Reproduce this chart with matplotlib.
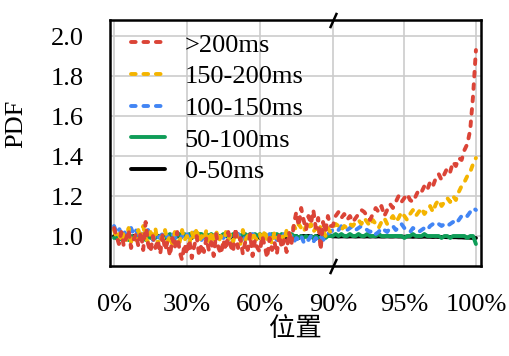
import numpy as np
import matplotlib
matplotlib.use("Agg")
import matplotlib.pyplot as plt

plt.rcParams['font.family'] = ['Liberation Serif', 'Noto Sans CJK SC']
plt.rcParams['font.size'] = 19

# x positions (%), left part 0-89 step 1, right part 90-100 step 0.2
pos_left = np.arange(0, 90)
pos_right = np.round(np.arange(90, 100.001, 0.2), 1)

red_left = [1.04, 1.00, 0.96, 1.02, 0.95, 0.99, 1.03, 0.94, 0.98, 1.01,
            0.95, 1.02, 0.93, 1.07, 0.96, 0.92, 1.00, 0.94, 0.98, 0.91,
            1.01, 0.93, 0.97, 0.90, 0.99, 0.94, 1.02, 0.92, 0.88, 0.96,
            0.91, 0.98, 0.89, 0.95, 1.00, 0.90, 0.96, 0.92, 0.99, 0.93,
            0.97, 0.90, 1.01, 0.94, 0.91, 0.98, 0.93, 1.02, 0.95, 0.92,
            1.04, 0.94, 0.99, 0.91, 0.97, 0.93, 1.01, 0.90, 0.98, 0.94,
            0.92, 1.00, 0.95, 0.89, 0.99, 0.93, 0.97, 0.91, 1.01, 0.94,
            0.98, 0.92, 1.02, 0.96, 1.06, 1.12, 1.05, 1.14, 1.08, 1.03,
            1.10, 1.06, 1.13, 1.04, 1.09, 0.93, 1.07, 1.02, 1.10, 1.05]
red_right = [1.05, 1.10, 1.12, 1.09, 1.11, 1.08, 1.10, 1.07, 1.09, 1.11,
             1.13, 1.12, 1.10, 1.08, 1.11, 1.14, 1.12, 1.15, 1.10, 1.13,
             1.16, 1.14, 1.17, 1.20, 1.17, 1.19, 1.21, 1.18, 1.17, 1.20,
             1.23, 1.22, 1.25, 1.23, 1.27, 1.25, 1.29, 1.31, 1.28, 1.31,
             1.34, 1.32, 1.37, 1.35, 1.39, 1.38, 1.43, 1.46, 1.53, 1.70, 1.93]

orange_left = [1.03, 0.99, 1.01, 0.97, 1.02, 0.98, 1.04, 0.97, 1.00, 0.98,
               1.03, 0.98, 1.05, 0.99, 0.97, 1.02, 0.98, 1.04, 0.96, 1.00,
               0.98, 1.03, 0.97, 1.00, 0.96, 1.02, 0.99, 0.97, 1.03, 0.98,
               1.00, 0.96, 1.02, 0.98, 1.04, 0.97, 1.00, 0.98, 1.03, 0.96,
               1.01, 0.98, 1.03, 0.97, 1.00, 0.95, 1.02, 0.98, 1.01, 0.97,
               1.02, 0.99, 0.96, 1.03, 0.98, 1.00, 0.97, 1.02, 0.99, 0.98,
               1.01, 0.97, 1.03, 0.98, 1.00, 0.96, 1.02, 0.99, 0.98, 1.01,
               0.97, 1.03, 0.99, 1.02, 1.05, 1.03, 1.06, 1.04, 1.02, 1.05,
               1.03, 1.06, 1.02, 1.04, 1.01, 1.05, 1.03, 1.00, 1.04, 1.02]
orange_right = [1.04, 1.06, 1.05, 1.03, 1.05, 1.04, 1.06, 1.05, 1.07, 1.08,
                1.06, 1.09, 1.07, 1.05, 1.08, 1.06, 1.04, 1.07, 1.09, 1.06,
                1.08, 1.10, 1.07, 1.09, 1.12, 1.10, 1.08, 1.11, 1.13, 1.10,
                1.12, 1.14, 1.11, 1.13, 1.15, 1.12, 1.16, 1.18, 1.15, 1.17,
                1.19, 1.17, 1.20, 1.18, 1.22, 1.25, 1.27, 1.30, 1.32, 1.36, 1.39]

blue_left = [1.05, 1.02, 1.04, 1.01, 1.03, 1.00, 1.02, 1.04, 1.01, 1.03,
             1.00, 1.02, 0.99, 1.01, 1.03, 1.00, 0.98, 1.01, 0.99, 1.00,
             1.01, 0.99, 1.00, 0.98, 1.01, 0.99, 1.00, 0.98, 1.00, 0.99,
             1.01, 0.99, 1.00, 1.02, 0.99, 1.00, 0.98, 1.00, 1.01, 0.99,
             1.00, 0.98, 1.01, 0.99, 1.00, 0.99, 1.01, 0.98, 1.00, 0.99,
             1.00, 1.01, 0.99, 1.00, 0.98, 1.00, 0.99, 1.01, 1.00, 0.99,
             1.00, 0.98, 1.00, 0.99, 1.01, 0.99, 1.00, 0.98, 1.00, 0.99,
             1.01, 0.99, 0.98, 1.00, 0.97, 0.99, 0.98, 1.00, 0.97, 0.99,
             0.98, 1.00, 0.97, 0.99, 0.98, 1.00, 0.98, 0.99, 1.01, 1.02]
blue_right = [1.03, 1.04, 1.03, 1.05, 1.04, 1.03, 1.04, 1.05, 1.03, 1.04,
              1.05, 1.04, 1.03, 1.02, 1.03, 1.01, 1.02, 1.04, 1.03, 1.02,
              1.04, 1.05, 1.03, 1.04, 1.06, 1.04, 1.03, 1.02, 1.04, 1.03,
              1.02, 1.03, 1.04, 1.03, 1.05, 1.06, 1.05, 1.06, 1.05, 1.06,
              1.05, 1.06, 1.07, 1.06, 1.08, 1.10, 1.11, 1.10, 1.12, 1.14, 1.13]

green_left = [0.99, 1.00, 0.98, 0.99, 1.00, 0.99, 0.98, 1.00, 0.99, 1.00,
              0.99, 1.00, 0.99, 0.98, 1.00, 0.99, 1.00, 0.99, 1.00, 0.99,
              1.00, 0.99, 1.00, 1.01, 1.00, 0.99, 1.00, 1.01, 1.00, 1.01,
              1.00, 1.01, 1.00, 1.01, 1.00, 1.01, 1.01, 1.00, 1.01, 1.00,
              1.01, 1.00, 1.01, 1.00, 1.00, 1.01, 1.00, 1.01, 1.00, 1.01,
              1.00, 1.01, 1.00, 1.01, 1.01, 1.00, 1.01, 1.00, 1.01, 1.00,
              1.01, 1.00, 1.01, 1.00, 1.00, 1.01, 1.00, 1.01, 1.00, 1.01,
              1.00, 1.01, 1.00, 1.01, 1.00, 1.00, 0.99, 1.00, 0.99, 1.00,
              0.99, 1.00, 0.99, 1.00, 0.99, 0.99, 1.00, 0.99, 1.00, 1.00]
green_right = [1.00, 1.01, 1.00, 1.01, 1.00, 1.00, 1.01, 1.00, 1.00, 1.01,
               1.00, 1.00, 1.01, 1.00, 1.00, 1.00, 1.01, 1.00, 1.00, 1.00,
               1.00, 1.00, 1.00, 1.00, 1.00, 0.99, 1.00, 1.00, 1.01, 1.00,
               1.00, 1.00, 1.01, 1.00, 1.00, 1.00, 1.00, 1.00, 0.99, 1.00,
               1.00, 0.99, 1.00, 1.00, 1.00, 1.00, 1.00, 0.99, 1.00, 1.00, 0.96]

black_left = [1.00, 0.99, 1.00, 1.00, 0.99, 1.00, 1.00, 0.99, 1.00, 1.00,
              0.99, 1.00, 1.00, 0.99, 1.00, 1.00, 0.99, 1.00, 1.00, 1.00,
              1.00, 0.99, 1.00, 1.00, 1.00, 0.99, 1.00, 1.00, 1.00, 1.00,
              1.00, 1.00, 0.99, 1.00, 1.00, 1.00, 1.00, 1.00, 0.99, 1.00,
              1.00, 1.00, 1.00, 0.99, 1.00, 1.00, 1.00, 1.00, 1.00, 0.99,
              1.00, 1.00, 1.00, 1.00, 0.99, 1.00, 1.00, 1.00, 1.00, 1.00,
              0.99, 1.00, 1.00, 1.00, 1.00, 0.99, 1.00, 1.00, 1.00, 1.00,
              1.00, 0.99, 1.00, 1.00, 1.00, 1.00, 0.99, 1.00, 1.00, 1.00,
              1.00, 1.00, 0.99, 1.00, 1.00, 1.00, 0.99, 1.00, 1.00, 1.00]
black_right = [0.998, 0.998, 0.997, 0.998, 0.998, 0.997, 0.998, 0.998, 0.997, 0.998,
               0.998, 0.997, 0.998, 0.997, 0.998, 0.997, 0.998, 0.997, 0.997, 0.998,
               0.997, 0.997, 0.998, 0.997, 0.997, 0.996, 0.997, 0.997, 0.996, 0.997,
               0.996, 0.996, 0.997, 0.996, 0.996, 0.995, 0.996, 0.995, 0.995, 0.995,
               0.994, 0.995, 0.994, 0.994, 0.993, 0.993, 0.992, 0.992, 0.991, 0.990, 0.990]

labels = ['>200ms', '150-200ms', '100-150ms', '50-100ms', '0-50ms']
colors = ['#DB4437', '#F4B400', '#4285F4', '#0F9D58', '#000000']

K = 5.89  # stretch of the 90-100% part


def fwd(x):
    x = np.asarray(x, dtype=float)
    return np.where(x <= 90, x, 90 + (x - 90) * K)


def inv(y):
    y = np.asarray(y, dtype=float)
    return np.where(y <= 90, y, 90 + (y - 90) / K)


fig = plt.figure(figsize=(5.1, 3.56), dpi=100)
ax = fig.add_axes([0.2157, 0.2528, 0.7273, 0.691])
ax.set_xscale('function', functions=(fwd, inv))

series = [
    (black_left, black_right, colors[4], '-', labels[4]),
    (green_left, green_right, colors[3], '-', labels[3]),
    (blue_left, blue_right, colors[2], '--', labels[2]),
    (orange_left, orange_right, colors[1], '--', labels[1]),
    (red_left, red_right, colors[0], '--', labels[0]),
]
handles = {}
for left, right, c, ls, lab in series:
    xs = np.concatenate([pos_left, pos_right])
    ys = np.concatenate([left, right])
    if ls == '--':
        ln, = ax.plot(xs, ys, color=c, lw=2.8, dashes=(1.2, 2.0),
                      dash_capstyle='round', label=lab)
    else:
        ln, = ax.plot(xs, ys, color=c, lw=2.8, solid_capstyle='round', label=lab)
    handles[lab] = ln

ax.set_xlim(-1.66, 100.35)
ax.set_ylim(0.85, 2.08)
ax.set_xticks([0, 30, 60, 90, 95, 100])
ax.set_xticklabels(['0%', '30%', '60%', '90%', '95%', '100%'])
ax.set_yticks([1.0, 1.2, 1.4, 1.6, 1.8, 2.0])
ax.set_yticklabels(['1.0', '1.2', '1.4', '1.6', '1.8', '2.0'])
ax.tick_params(axis='both', length=0)
ax.tick_params(axis='y', pad=19)
ax.tick_params(axis='x', pad=20)
ax.grid(True, color='#cccccc', lw=1.2)
ax.set_axisbelow(True)
for s in ax.spines.values():
    s.set_linewidth(1.8)
    s.set_color('black')

ax.set_ylabel('PDF')
ax.yaxis.set_label_coords(-0.222, 0.58)
ax.set_xlabel('位置', labelpad=1)

# axis break marks at 90%
tr = ax.get_xaxis_transform()
for yy in (0, 1):
    ax.plot([90], [yy], transform=tr, marker=[(-0.45, -1), (0.45, 1)],
            markersize=11, mew=1.8, color='black', clip_on=False, zorder=5)

leg = ax.legend([handles[l] for l in labels], labels, loc='upper left',
                bbox_to_anchor=(0.02, 1.0),
                frameon=False, handlelength=1.3, handletextpad=0.75,
                labelspacing=0.31, borderaxespad=0.2, borderpad=0.3)

fig.savefig('out.png', dpi=100)
